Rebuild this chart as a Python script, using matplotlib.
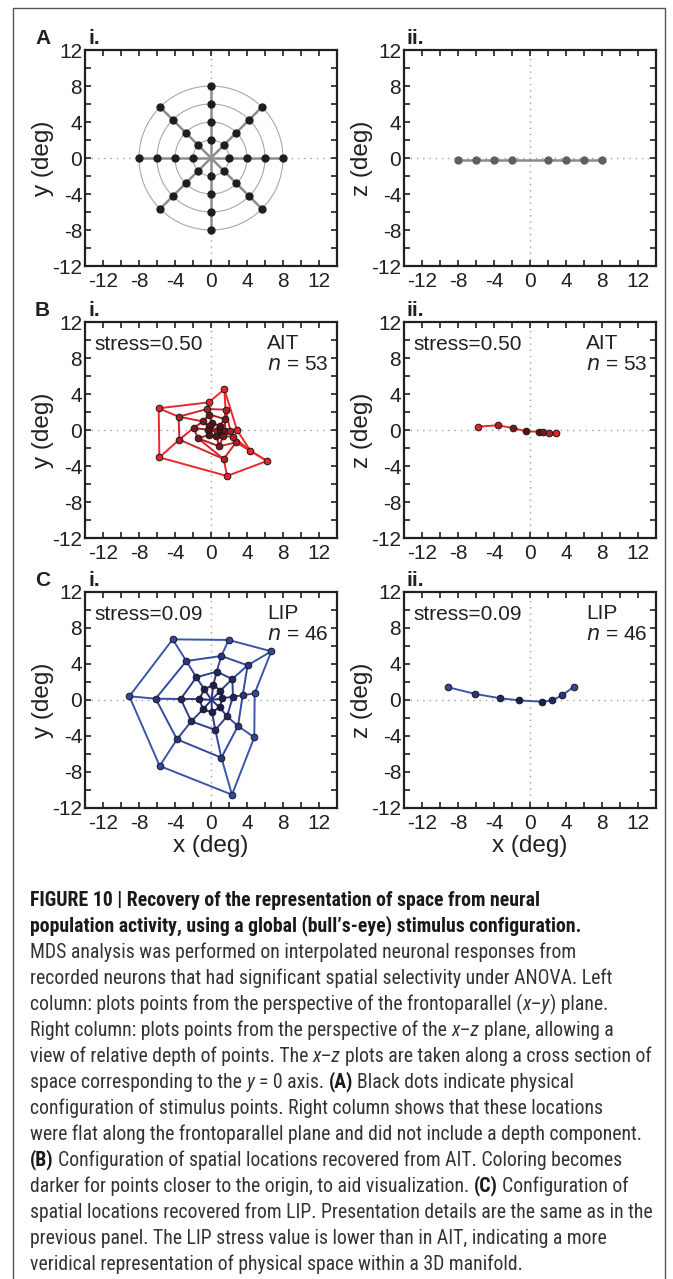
import numpy as np
import matplotlib
matplotlib.use("Agg")
import matplotlib.pyplot as plt
from matplotlib.ticker import MultipleLocator
from matplotlib.patches import Circle
from matplotlib import font_manager

W, H = 673, 1279

# ---- data ----
# (A) stimulus bull's-eye: rings x spokes
ring_radii = [2, 4, 6, 8]
spoke_angles = [0, 45, 90, 135, 180, 225, 270, 315]
flat_x = [-8, -6, -4, -2, 2, 4, 6, 8]
flat_z = [-0.2, -0.2, -0.2, -0.2, -0.2, -0.2, -0.2, -0.2]

# (B) AIT recovered configuration, rings inner->outer, spokes 0..315 deg
ait_hub = (0.3, 0.0)
ait_x = [[1.05, 0.96, 0.11, -0.25, -0.37, -0.26, 0.59, 1.22],
         [1.59, 1.52, -0.17, -0.90, -1.93, -1.44, 0.93, 1.33],
         [2.15, 1.62, -0.44, -3.59, -3.52, 1.41, 2.78, 2.45],
         [2.89, 1.48, -0.26, -5.81, -5.74, 1.78, 6.22, 4.37]]
ait_y = [[0.05, 0.45, 0.78, 0.40, 0.04, -0.56, -0.70, -0.56],
         [-0.07, 1.22, 1.72, 0.95, 0.22, -0.93, -1.81, -0.70],
         [-0.07, 2.26, 2.33, 1.48, -1.07, -3.22, -1.37, -0.75],
         [0.00, 4.52, 3.07, 2.41, -3.04, -5.11, -3.44, -2.30]]
ait_xz_x = [-5.81, -3.59, -1.89, -0.44, 1.04, 1.44, 2.15, 2.89]
ait_xz_z = [0.37, 0.52, 0.22, -0.15, -0.19, -0.26, -0.37, -0.37]

# (C) LIP recovered configuration
lip_hub = (0.05, 0.0)
lip_x = [[1.26, 1.04, 0.26, -0.74, -1.30, -0.89, 0.11, 0.96],
         [2.44, 2.37, 0.63, -1.63, -3.37, -2.19, 0.48, 1.78],
         [3.52, 4.07, 1.15, -2.74, -6.15, -3.78, 1.15, 3.00],
         [4.85, 6.70, 1.96, -4.26, -9.07, -5.70, 2.33, 4.81]]
lip_y = [[0.19, 1.04, 1.67, 1.19, 0.11, -1.04, -1.37, -0.81],
         [0.37, 2.33, 3.15, 2.52, 0.11, -2.37, -3.33, -1.81],
         [0.52, 3.85, 4.89, 4.33, 0.15, -4.37, -6.41, -2.89],
         [0.74, 5.41, 6.67, 6.74, 0.41, -7.33, -10.52, -4.15]]
lip_xz_x = [-9.07, -6.07, -3.30, -1.22, 1.30, 2.48, 3.56, 4.89]
lip_xz_z = [1.41, 0.67, 0.19, -0.04, -0.19, -0.04, 0.52, 1.48]

xz_ring = [3, 2, 1, 0, 0, 1, 2, 3]   # ring index of each x-z point

# colours, ring 1 -> ring 4
ait_lines = ['#8c1a1d', '#b01e23', '#d8232a', '#ec272d']
ait_marks = ['#5a1214', '#7d1619', '#b21e23', '#e2262c']
lip_lines = ['#27307a', '#2e3d8e', '#3449a0', '#3a55aa']
lip_marks = ['#1b1f55', '#212866', '#2a3680', '#33499c']

panel_info = [("stress=0.50", "AIT", "53"), ("stress=0.09", "LIP", "46")]

TXT = '#231f20'
plt.rcParams['font.family'] = ['Liberation Sans', 'DejaVu Sans']
plt.rcParams['axes.unicode_minus'] = False

fig = plt.figure(figsize=(W / 100, H / 100), dpi=100)


def add_axes_px(left, top, w=252, h=216):
    return fig.add_axes([left / W, 1 - (top + h) / H, w / W, h / H])


def style_axes(ax, ylab, show_xlabel):
    ax.set_xlim(-14, 14)
    ax.set_ylim(-12, 12)
    ax.xaxis.set_major_locator(MultipleLocator(4))
    ax.yaxis.set_major_locator(MultipleLocator(4))
    ax.xaxis.set_minor_locator(MultipleLocator(2))
    ax.yaxis.set_minor_locator(MultipleLocator(2))
    ax.tick_params(which='both', direction='in', top=True, right=True,
                   length=4, width=1.2, colors=TXT, labelsize=15)
    ax.tick_params(axis='x', pad=4)
    ax.tick_params(axis='y', pad=2)
    for sp in ax.spines.values():
        sp.set_linewidth(1.6)
        sp.set_color(TXT)
    ax.axhline(0, color='#a0a0a0', ls=(0, (1, 3.5)), lw=1.0, zorder=1)
    ax.axvline(0, color='#a0a0a0', ls=(0, (1, 3.5)), lw=1.0, zorder=1)
    ax.set_ylabel(ylab, fontsize=17.5, color=TXT)
    ax.yaxis.set_label_coords(-0.167, 0.5)
    ax.yaxis.label.set_va('center')
    if show_xlabel:
        ax.set_xlabel("x (deg)", fontsize=17.5, color=TXT)
        ax.xaxis.set_label_coords(0.5, -0.176)
        ax.xaxis.label.set_va('center')


def draw_web(ax, xs, ys, hub, lcols, mcols):
    nr = len(xs)
    for k in range(nr):
        ax.plot(xs[k] + [xs[k][0]], ys[k] + [ys[k][0]], color=lcols[k],
                lw=1.4, zorder=2, solid_capstyle='round')
    for s in range(len(xs[0])):
        px, py = hub
        for k in range(nr):
            ax.plot([px, xs[k][s]], [py, ys[k][s]], color=lcols[k], lw=1.4,
                    zorder=2, solid_capstyle='round')
            px, py = xs[k][s], ys[k][s]
    for k in range(nr):
        ax.plot(xs[k], ys[k], 'o', ms=4.8, mfc=mcols[k], mec='#1a1a1a',
                mew=0.7, zorder=4)


def draw_xz(ax, xs, zs, lcols, mcols):
    ax.plot(xs, zs, color=lcols[3], lw=1.4, zorder=2)
    for x, z, k in zip(xs, zs, xz_ring):
        ax.plot(x, z, 'o', ms=4.8, mfc=mcols[k], mec='#1a1a1a', mew=0.7,
                zorder=4)


def panel_text(ax, stress, area, n):
    ax.text(-12.9, 9.5, stress, fontsize=15, color=TXT, va='center', ha='left')
    ax.text(6.2, 9.6, area, fontsize=15, color=TXT, va='center', ha='left')
    ax.text(6.2, 7.3, "$\\it{n}$ = " + n, fontsize=15, color=TXT,
            va='center', ha='left')


rows_top = [50, 322, 592]
lefts = [85, 404]

# ---- A ----
ax = add_axes_px(lefts[0], rows_top[0])
style_axes(ax, "y (deg)", False)
for r in ring_radii:
    ax.add_patch(Circle((0, 0), r, fill=False, ec='#a8a8a8', lw=0.8, zorder=2))
th = np.deg2rad(spoke_angles)
for t in th:
    ax.plot([0, ring_radii[-1] * np.cos(t)], [0, ring_radii[-1] * np.sin(t)],
            color='#8e8e8e', lw=1.8, zorder=2)
for r in ring_radii:
    ax.plot(r * np.cos(th), r * np.sin(th), 'o', ms=5, color='#1e1e1e', zorder=4)

ax = add_axes_px(lefts[1], rows_top[0])
style_axes(ax, "z (deg)", False)
ax.plot(flat_x, flat_z, color='#8a8a8a', lw=1.8, zorder=2)
ax.plot(flat_x, flat_z, 'o', ms=5, color='#5e5e5e', zorder=4)

# ---- B ----
ax = add_axes_px(lefts[0], rows_top[1])
style_axes(ax, "y (deg)", False)
draw_web(ax, ait_x, ait_y, ait_hub, ait_lines, ait_marks)
panel_text(ax, *panel_info[0])

ax = add_axes_px(lefts[1], rows_top[1])
style_axes(ax, "z (deg)", False)
draw_xz(ax, ait_xz_x, ait_xz_z, ait_lines, ait_marks)
panel_text(ax, *panel_info[0])

# ---- C ----
ax = add_axes_px(lefts[0], rows_top[2])
style_axes(ax, "y (deg)", True)
draw_web(ax, lip_x, lip_y, lip_hub, lip_lines, lip_marks)
panel_text(ax, *panel_info[1])

ax = add_axes_px(lefts[1], rows_top[2])
style_axes(ax, "z (deg)", True)
draw_xz(ax, lip_xz_x, lip_xz_z, lip_lines, lip_marks)
panel_text(ax, *panel_info[1])

# panel letters
for letter, top in zip("ABC", rows_top):
    y = 1 - (top - 12) / H
    fig.text(35 / W, y, letter, fontsize=15, fontweight='bold', color=TXT,
             va='center', ha='left')
    fig.text(88 / W, y, "i.", fontsize=15, fontweight='bold', color=TXT,
             va='center', ha='left')
    fig.text(406 / W, y, "ii.", fontsize=15, fontweight='bold', color=TXT,
             va='center', ha='left')

# frame around figure + caption
fig.add_artist(plt.Line2D([13 / W, 13 / W, 665 / W, 665 / W],
                          [0, 1 - 8 / H, 1 - 8 / H, 0],
                          color='#555555', lw=1.0))

# ---- caption ----
names = {f.name for f in font_manager.fontManager.ttflist}
cap_font = 'DejaVu Sans'
for cand in ['Liberation Sans Narrow', 'Roboto Condensed', 'Open Sans Condensed',
             'Roboto', 'Liberation Sans']:
    if cand in names:
        cap_font = cand
        break

N, B, I = 'normal', 'bold', 'italic'
caption = [
    [("FIGURE 10 | Recovery of the representation of space from neural", B, N)],
    [("population activity, using a global (bull\u2019s-eye) stimulus configuration.", B, N)],
    [("MDS analysis was performed on interpolated neuronal responses from", N, N)],
    [("recorded neurons that had significant spatial selectivity under ANOVA. Left", N, N)],
    [("column: plots points from the perspective of the frontoparallel (", N, N),
     ("x\u2013y", N, I), (") plane.", N, N)],
    [("Right column: plots points from the perspective of the ", N, N),
     ("x\u2013z", N, I), (" plane, allowing a", N, N)],
    [("view of relative depth of points. The ", N, N), ("x\u2013z", N, I),
     (" plots are taken along a cross section of", N, N)],
    [("space corresponding to the ", N, N), ("y", N, I), (" = 0 axis. ", N, N),
     ("(A)", B, N), (" Black dots indicate physical", N, N)],
    [("configuration of stimulus points. Right column shows that these locations", N, N)],
    [("were flat along the frontoparallel plane and did not include a depth component.", N, N)],
    [("(B)", B, N), (" Configuration of spatial locations recovered from AIT. Coloring becomes", N, N)],
    [("darker for points closer to the origin, to aid visualization. ", N, N),
     ("(C)", B, N), (" Configuration of", N, N)],
    [("spatial locations recovered from LIP. Presentation details are the same as in the", N, N)],
    [("previous panel. The LIP stress value is lower than in AIT, indicating a more", N, N)],
    [("veridical representation of physical space within a 3D manifold.", N, N)],
]

renderer = fig.canvas.get_renderer()


def text_width(s, size, weight, style):
    t = fig.text(0, 0, s, fontsize=size, fontweight=weight, fontstyle=style,
                 family=cap_font)
    w = t.get_window_extent(renderer).width
    t.remove()
    return w


# fit the longest plain line to its width in the reference
cap_size = 13.0
w0 = text_width(caption[9][0][0], cap_size, N, N)
cap_size = cap_size * 612 / w0
space_w = text_width("a a", cap_size, N, N) - text_width("aa", cap_size, N, N)

y0, dy = 900, 26
for i, runs in enumerate(caption):
    x = 30.0
    y = 1 - (y0 + i * dy) / H
    for s, weight, style in runs:
        lead = len(s) - len(s.lstrip(' '))
        trail = len(s) - len(s.rstrip(' '))
        x += lead * space_w
        core = s.strip(' ')
        col = '#1a1a1a' if weight == B else '#333333'
        t = fig.text(x / W, y, core, fontsize=cap_size, fontweight=weight,
                     fontstyle=style, family=cap_font, color=col,
                     va='center', ha='left')
        x += t.get_window_extent(renderer).width + trail * space_w

fig.savefig("out.png", dpi=100)
